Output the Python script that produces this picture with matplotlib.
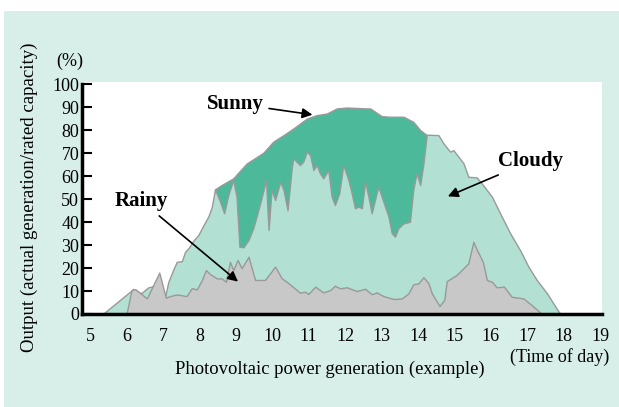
import matplotlib
matplotlib.use('Agg')
import matplotlib.pyplot as plt
from matplotlib.patches import Rectangle

# Output (% of rated capacity) by time of day
sunny_x = [8.43, 8.6, 8.93, 9.1, 9.3, 9.5, 9.76, 10.03, 10.31, 10.58, 10.95,
           11.22, 11.5, 11.77, 12.05, 12.6, 12.69, 13.0, 13.19, 13.6, 13.87,
           14.06, 14.24]
sunny_y = [54.2, 56, 59, 62, 65.5, 67.5, 70.2, 75, 77.8, 80.7, 85,
           86.5, 87.2, 89.4, 89.8, 89.4, 89.4, 86.1, 85.8, 85.8, 83.6,
           80, 77.8]

cloudy_x = [5.35, 6.19, 6.4, 6.6, 6.69, 6.8, 6.95, 7.06, 7.15, 7.29, 7.38,
            7.52, 7.61, 7.7, 7.84, 7.97, 8.11, 8.25, 8.34, 8.43, 8.57, 8.68,
            8.8, 8.93, 9.02, 9.1, 9.21, 9.35, 9.48, 9.57, 9.7, 9.83, 9.87,
            9.9, 9.94, 9.98, 10.08, 10.22, 10.31, 10.42, 10.54, 10.58, 10.67,
            10.76, 10.85, 10.95, 11.04, 11.13, 11.22, 11.31, 11.4, 11.54,
            11.63, 11.72, 11.84, 11.95, 12.09, 12.18, 12.27, 12.37, 12.46,
            12.55, 12.64, 12.73, 12.91, 13.05, 13.19, 13.28, 13.37, 13.46,
            13.6, 13.78, 13.87, 13.96, 14.06, 14.15, 14.24, 14.56, 14.7,
            14.88, 14.97, 15.25, 15.38, 15.61, 15.75, 16.03, 16.3, 16.53,
            16.8, 17.03, 17.26, 17.54, 17.86, 17.92]
cloudy_y = [0, 10.9, 9.0, 11.6, 11.9, 13, 10, 7.5, 14, 19.5, 22.7,
            23, 27.1, 28.6, 32, 34.3, 38.5, 42.5, 46.5, 54.2, 48.8, 43.8,
            52, 58.3, 51, 29.3, 29, 32.2, 37.3, 42.3, 50, 58.3, 45,
            36.5, 45, 53.9, 49.6, 57.5, 53.9, 45.2, 64.1, 67.7, 66.2,
            64.8, 66.2, 70.6, 69.1, 62.6, 64.8, 61.2, 59, 62.6,
            51, 47.4, 52.5, 64.8, 58.3, 52.5, 46, 46.7, 46,
            57.5, 51, 43.8, 55.4, 48.8, 42.3, 35.1, 33.6, 37.3,
            39.4, 40.1, 53.9, 61.2, 56.1, 65.5, 78.0, 77.8, 74.2,
            70.6, 71.3, 65.5, 59.7, 59.4, 56.8, 51, 42.3, 35.1,
            27.8, 20.6, 14.8, 9, 1, 0]

rainy_x = [6.0, 6.14, 6.24, 6.56, 6.9, 7.08, 7.2, 7.38, 7.65, 7.79, 7.93,
           8.07, 8.18, 8.29, 8.48, 8.61, 8.73, 8.84, 8.93, 9.05, 9.16, 9.35,
           9.53, 9.8, 10.08, 10.26, 10.4, 10.76, 10.9, 10.99, 11.18, 11.4,
           11.59, 11.72, 11.86, 12.05, 12.32, 12.55, 12.73, 12.87, 13.05,
           13.33, 13.56, 13.74, 13.87, 14.01, 14.15, 14.29, 14.38, 14.59,
           14.72, 14.79, 15.06, 15.38, 15.52, 15.61, 15.78, 15.89, 16.03,
           16.16, 16.36, 16.57, 16.89, 17.12, 17.4]
rainy_y = [0, 10.4, 10.8, 6.8, 18, 7.1, 7.8, 8.5, 7.8, 11.2, 10.7,
           14.8, 19.1, 17.4, 15.5, 15.5, 14, 22.7, 19.1, 23.5, 19.9, 24.9,
           14.8, 14.8, 20.6, 15.5, 14.0, 9.3, 9.7, 8.7, 11.9, 9.4,
           10.4, 12.3, 11.2, 11.6, 10, 11, 8.6, 9.4, 7.8,
           6.5, 6.8, 9.0, 12.9, 13.3, 16, 13.3, 9, 3.5,
           6.1, 14.3, 17, 22, 31.4, 28.1, 22.7, 14.8, 14,
           11.6, 11.9, 7.5, 6.8, 3.9, 0]

x_ticks = list(range(5, 20))
y_ticks = list(range(0, 101, 10))

BG = '#d8efe9'
SUNNY = '#4db99b'
CLOUDY = '#b2e1d4'
RAINY = '#c8c8c8'
EDGE = '#999999'

plt.rcParams['font.family'] = ['Liberation Serif', 'DejaVu Serif']

fig = plt.figure(figsize=(6.19, 4.07), dpi=100)
fig.patches.append(Rectangle((4 / 619, 0), 1, 396 / 407, transform=fig.transFigure,
                             facecolor=BG, edgecolor='none', zorder=-10))
ax = fig.add_axes([82 / 619, 93 / 407, 520 / 619, 232 / 407])
ax.set_facecolor('white')

ax.fill_between(sunny_x, sunny_y, color=SUNNY, edgecolor=EDGE, linewidth=1)
ax.fill_between(cloudy_x, cloudy_y, color=CLOUDY, edgecolor=EDGE, linewidth=1)
ax.fill_between(rainy_x, rainy_y, color=RAINY, edgecolor=EDGE, linewidth=1)

ax.set_xlim(4.78, 19.05)
ax.set_ylim(0, 100.9)
ax.set_xticks(x_ticks)
ax.set_yticks(y_ticks)
ax.tick_params(axis='x', length=0, pad=10, labelsize=13)
ax.tick_params(axis='y', direction='in', length=7, width=1.5, pad=2, labelsize=13)
ax.set_xticks([18], minor=True)
ax.tick_params(axis='x', which='minor', direction='in', length=5, width=1, color='#777777')

for s in ['top', 'right']:
    ax.spines[s].set_visible(False)
ax.spines['left'].set_linewidth(2.5)
ax.spines['bottom'].set_linewidth(2.5)
ax.spines['left'].set_bounds(0, 100)

ax.set_ylabel('Output (actual generation/rated capacity)', fontsize=13.6)
ax.yaxis.set_label_coords(-0.085, 0.505)
ax.set_xlabel('Photovoltaic power generation (example)', fontsize=13.4)
ax.xaxis.set_label_coords(0.477, -0.203)
ax.text(0.919, -0.185, '(Time of day)', transform=ax.transAxes, fontsize=13,
        ha='center', va='center')
ax.text(-0.023, 1.0875, '(%)', transform=ax.transAxes, fontsize=13,
        ha='center', va='center')

arrow = dict(arrowstyle='-|>', color='black', lw=1.2, mutation_scale=15)
ax.annotate('Sunny', xy=(11.18, 86.5), xytext=(8.98, 91.5), fontsize=15,
            fontweight='bold', ha='center', va='center', arrowprops=arrow)
ax.annotate('Rainy', xy=(9.12, 13.3), xytext=(6.42, 49.0), fontsize=15,
            fontweight='bold', ha='center', va='center', arrowprops=arrow)
ax.annotate('Cloudy', xy=(14.75, 50.7), xytext=(17.1, 66.5), fontsize=15,
            fontweight='bold', ha='center', va='center', arrowprops=arrow)

fig.savefig('out.png', dpi=100, facecolor='white')
